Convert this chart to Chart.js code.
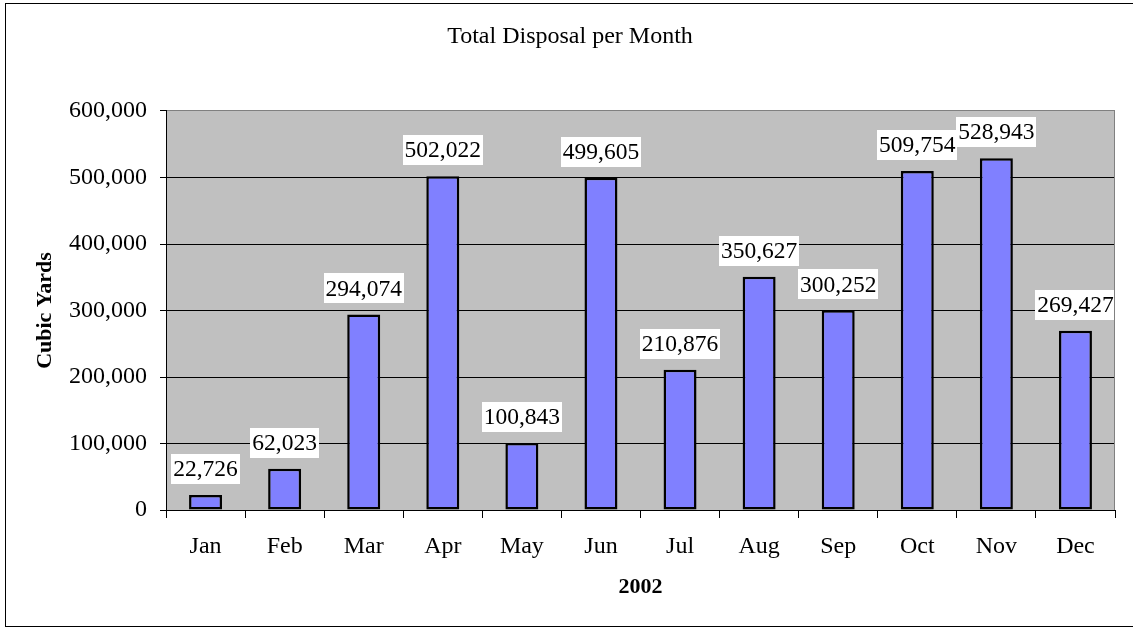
<!DOCTYPE html>
<html>
<head>
<meta charset="utf-8">
<script src="https://cdn.jsdelivr.net/npm/chart.js@4.4.1/dist/chart.umd.min.js"></script>
<style>
  html, body { margin: 0; padding: 0; background: #fff; }
  canvas { display: block; }
</style>
</head>
<body>
<canvas id="c" width="1133" height="630"></canvas>
<script>
const categories = ['Jan', 'Feb', 'Mar', 'Apr', 'May', 'Jun', 'Jul', 'Aug', 'Sep', 'Oct', 'Nov', 'Dec'];
const disposal = [22726, 62023, 294074, 502022, 100843, 499605, 210876, 350627, 300252, 509754, 528943, 269427];
const yMin = 0;
const yMax = 600000;
const yStep = 100000;
const chartTitle = 'Total Disposal per Month';
const yTitle = 'Cubic Yards';
const xTitle = '2002';

const SERIF = '"Liberation Serif", "Times New Roman", serif';
const fmt = v => Number(v).toLocaleString('en-US');

Chart.defaults.color = '#000';

const backdrop = {
  id: 'backdrop',
  beforeDraw(chart) {
    const ctx = chart.ctx;
    const a = chart.chartArea;
    ctx.save();
    ctx.fillStyle = '#fff';
    ctx.fillRect(0, 0, chart.width, chart.height);
    ctx.strokeStyle = '#000';
    ctx.lineWidth = 1;
    ctx.strokeRect(5.5, 3.5, 1140, 623);
    ctx.fillStyle = '#C0C0C0';
    ctx.fillRect(a.left, a.top, a.right - a.left, a.bottom - a.top);
    ctx.restore();
  },
  afterDraw(chart) {
    const ctx = chart.ctx;
    const a = chart.chartArea;
    ctx.save();
    ctx.strokeStyle = '#808080';
    ctx.lineWidth = 1;
    ctx.beginPath();
    ctx.moveTo(Math.round(a.right) - 0.5, a.top);
    ctx.lineTo(Math.round(a.right) - 0.5, a.bottom);
    ctx.stroke();
    ctx.restore();
  }
};

const valueLabels = {
  id: 'valueLabels',
  afterDatasetsDraw(chart) {
    const ctx = chart.ctx;
    const meta = chart.getDatasetMeta(0);
    const data = chart.data.datasets[0].data;
    ctx.save();
    ctx.font = '23.5px ' + SERIF;
    ctx.textAlign = 'center';
    ctx.textBaseline = 'middle';
    meta.data.forEach((bar, i) => {
      const text = fmt(data[i]);
      const w = ctx.measureText(text).width + 4;
      const h = 30;
      const bottom = bar.y - 11;
      const top = bottom - h;
      ctx.fillStyle = '#fff';
      ctx.fillRect(Math.round(bar.x - w / 2), Math.round(top), Math.round(w), h);
      ctx.fillStyle = '#000';
      ctx.fillText(text, bar.x, top + h / 2 + 1);
    });
    ctx.restore();
  }
};

new Chart(document.getElementById('c'), {
  type: 'bar',
  data: {
    labels: categories,
    datasets: [{
      data: disposal,
      backgroundColor: '#8080FF',
      borderColor: '#000',
      borderWidth: 2.5,
      borderSkipped: false,
      categoryPercentage: 1,
      barPercentage: 0.417
    }]
  },
  options: {
    responsive: false,
    animation: false,
    events: [],
    layout: { padding: { left: 25, right: 18, top: 0, bottom: 0 } },
    plugins: {
      legend: { display: false },
      tooltip: { enabled: false },
      title: {
        display: true,
        text: chartTitle,
        color: '#000',
        font: { family: SERIF, size: 24, weight: 'normal', lineHeight: 1.2 },
        padding: { top: 22.4, bottom: 59.8 }
      }
    },
    scales: {
      x: {
        grid: {
          offset: true,
          drawOnChartArea: false,
          drawTicks: true,
          tickLength: 8,
          tickColor: '#000',
          lineWidth: 1
        },
        border: { display: true, color: '#000', width: 1 },
        ticks: {
          color: '#000',
          font: { family: SERIF, size: 24 },
          padding: 14.6,
          maxRotation: 0,
          autoSkip: false
        },
        title: {
          display: true,
          text: xTitle,
          color: '#000',
          font: { family: SERIF, size: 22, weight: 'bold', lineHeight: 1.2 },
          padding: { top: 0, bottom: 29 }
        },
        afterFit(scale) { scale.height = 120; }
      },
      y: {
        min: yMin,
        max: yMax,
        grid: {
          color: c => (c.tick && c.tick.value === yMax) ? '#808080' : '#000',
          tickColor: '#000',
          tickLength: 6,
          lineWidth: 1
        },
        border: { display: true, color: '#000', width: 1 },
        ticks: {
          stepSize: yStep,
          color: '#000',
          font: { family: SERIF, size: 24 },
          padding: 13,
          callback: v => fmt(v)
        },
        title: {
          display: true,
          text: yTitle,
          color: '#000',
          font: { family: SERIF, size: 22, weight: 'bold', lineHeight: 1.2 },
          padding: { top: 7, bottom: 0 }
        },
        afterFit(scale) { scale.width = 141; }
      }
    }
  },
  plugins: [backdrop, valueLabels]
});
</script>
</body>
</html>
